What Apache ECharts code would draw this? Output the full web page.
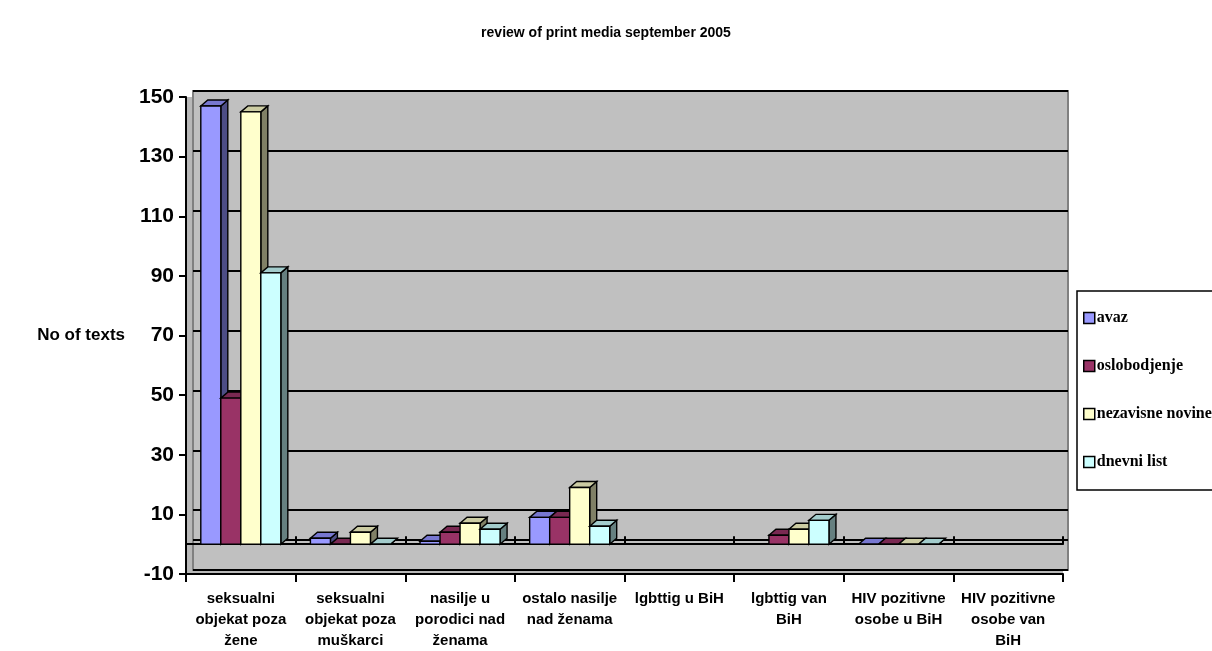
<!DOCTYPE html>
<html>
<head>
<meta charset="utf-8">
<title>review of print media september 2005</title>
<script src="https://cdn.jsdelivr.net/npm/echarts@6/dist/echarts.min.js"></script>
<style>
  html, body { margin: 0; padding: 0; background: #fff; }
  #chart-main { width: 1212px; height: 651px; }
</style>
</head>
<body>
<div id="chart-main"></div>
<script>
// ============================================================
// data
// ============================================================

var CATEGORIES = [
  'seksualni\nobjekat poza\nžene',
  'seksualni\nobjekat poza\nmuškarci',
  'nasilje u\nporodici nad\nženama',
  'ostalo nasilje\nnad ženama',
  'lgbttig u BiH',
  'lgbttig van\nBiH',
  'HIV pozitivne\nosobe u BiH',
  'HIV pozitivne\nosobe van\nBiH'
];

var SERIES_NAMES = ['avaz', 'oslobodjenje', 'nezavisne novine', 'dnevni list'];

// null = no column drawn
var AVAZ = [147, 2, 1, 9, null, null, 0, null];
var OSLOBODJENJE = [49, 0, 4, 9, null, 3, 0, null];
var NEZAVISNE = [145, 4, 7, 19, null, 5, 0, null];
var DNEVNI = [91, 0, 5, 6, null, 8, 0, null];

var Y_MIN = -10;
var Y_MAX = 150;
var Y_STEP = 20;

// front / top / side shades of each column
var COLORS = [
  { front: '#9999FF', top: '#7777D0', side: '#4D4D85' },
  { front: '#993366', top: '#7A2952', side: '#4D1A33' },
  { front: '#FFFFCC', top: '#CCCCA3', side: '#808066' },
  { front: '#CCFFFF', top: '#A3CCCC', side: '#668080' }
];

var DEPTH_X = 7;
var DEPTH_Y = 6;
var FONT = '"Liberation Sans", Arial, sans-serif';

// ============================================================
// 3d column
// ============================================================

function renderColumn(params, api) {
  var cat = api.value(0);
  var val = api.value(1);
  var s = params.seriesIndex;
  var band = api.size([1, 0])[0];
  var bw = band * 0.1825;
  var base = api.coord([cat, 0]);
  var top = api.coord([cat, val]);
  var x0 = base[0] - 2 * bw + s * bw;
  var x1 = x0 + bw;
  var yb = base[1];
  var yt = top[1];
  var c = COLORS[s];
  var line = { stroke: '#000', lineWidth: 1.4 };
  return {
    type: 'group',
    children: [
      {
        type: 'polygon',
        shape: { points: [[x1, yt], [x1 + DEPTH_X, yt - DEPTH_Y], [x1 + DEPTH_X, yb - DEPTH_Y], [x1, yb]] },
        style: Object.assign({ fill: c.side }, line)
      },
      {
        type: 'polygon',
        shape: { points: [[x0, yt], [x0 + DEPTH_X, yt - DEPTH_Y], [x1 + DEPTH_X, yt - DEPTH_Y], [x1, yt]] },
        style: Object.assign({ fill: c.top }, line)
      },
      {
        type: 'rect',
        shape: { x: x0, y: yt, width: bw, height: yb - yt },
        style: Object.assign({ fill: c.front }, line)
      }
    ]
  };
}

function toPoints(values) {
  var out = [];
  values.forEach(function(v, i) {
    if (v !== null) out.push([i, v]);
  });
  return out;
}

// ============================================================
// chart
// ============================================================

var chart = echarts.init(document.getElementById('chart-main'));

var seriesValues = [AVAZ, OSLOBODJENJE, NEZAVISNE, DNEVNI];

var series = seriesValues.map(function(values, s) {
  return {
    name: SERIES_NAMES[s],
    type: 'custom',
    xAxisIndex: 0,
    yAxisIndex: 0,
    renderItem: renderColumn,
    itemStyle: { color: COLORS[s].front },
    encode: { x: 0, y: 1 },
    data: toPoints(values),
    z: 10
  };
});

// zero line on the back wall
series.push({
  type: 'line',
  xAxisIndex: 2,
  yAxisIndex: 1,
  data: [],
  silent: true,
  markLine: {
    silent: true,
    symbol: 'none',
    label: { show: false },
    lineStyle: { color: '#000', width: 2, type: 'solid' },
    data: [{ yAxis: 0 }]
  }
});

chart.setOption({
  animation: false,
  backgroundColor: '#fff',
  title: {
    text: 'review of print media september 2005',
    left: 'center',
    top: 21,
    textStyle: { fontFamily: FONT, fontSize: 14, fontWeight: 'bold', color: '#000' }
  },
  legend: {
    orient: 'vertical',
    left: 1077,
    top: 291,
    itemWidth: 11,
    itemHeight: 11,
    itemGap: 32,
    padding: [19, 60, 20, 6],
    borderColor: '#000',
    borderWidth: 1.5,
    icon: 'rect',
    data: SERIES_NAMES.map(function(n, s) {
      return { name: n, itemStyle: { color: COLORS[s].front, borderColor: '#000', borderWidth: 1.5 } };
    }),
    textStyle: { fontFamily: '"Liberation Serif", "Times New Roman", serif', fontWeight: 'bold', fontSize: 16, color: '#000', padding: [0, 0, 0, -3] }
  },
  grid: [
    // front plane: labels, ticks, columns
    { left: 186, right: 149, top: 97, bottom: 76, show: true, backgroundColor: '#B8B8B8', borderWidth: 0 },
    // back wall
    { left: 193, right: 144, top: 91, bottom: 81, show: true, backgroundColor: '#C0C0C0', borderColor: '#808080', borderWidth: 2 }
  ],
  xAxis: [
    {
      type: 'category',
      gridIndex: 0,
      position: 'bottom',
      data: CATEGORIES,
      axisLine: { onZero: false, lineStyle: { color: '#000', width: 2 } },
      axisTick: { show: true, length: 8, lineStyle: { color: '#000', width: 2 } },
      axisLabel: {
        interval: 0,
        margin: 14,
        fontFamily: FONT,
        fontSize: 15,
        fontWeight: 'bold',
        lineHeight: 21,
        color: '#000'
      },
      splitLine: { show: false }
    },
    {
      type: 'category',
      gridIndex: 0,
      data: CATEGORIES,
      axisLine: { onZero: true, onZeroAxisIndex: 0, lineStyle: { color: '#000', width: 2 } },
      axisTick: { show: true, length: 8, lineStyle: { color: '#000', width: 2 } },
      axisLabel: { show: false },
      splitLine: { show: false }
    },
    {
      type: 'category',
      gridIndex: 1,
      data: CATEGORIES,
      show: false
    }
  ],
  yAxis: [
    {
      type: 'value',
      gridIndex: 0,
      min: Y_MIN,
      max: Y_MAX,
      interval: Y_STEP,
      name: 'No of texts',
      nameLocation: 'middle',
      nameRotate: 0,
      nameGap: 61,
      nameTextStyle: { fontFamily: FONT, fontSize: 17, fontWeight: 'bold', color: '#000' },
      axisLine: { show: true, lineStyle: { color: '#000', width: 2 } },
      axisTick: { show: true, length: 7, lineStyle: { color: '#000', width: 2 } },
      axisLabel: { margin: 12, fontFamily: FONT, fontSize: 21, fontWeight: 'bold', color: '#000' },
      splitLine: { show: false }
    },
    {
      type: 'value',
      gridIndex: 1,
      min: Y_MIN,
      max: Y_MAX,
      interval: Y_STEP,
      axisLine: { show: false },
      axisTick: { show: false },
      axisLabel: { show: false },
      splitLine: { show: true, lineStyle: { color: '#000', width: 2 } }
    }
  ],
  series: series
});
</script>
</body>
</html>
